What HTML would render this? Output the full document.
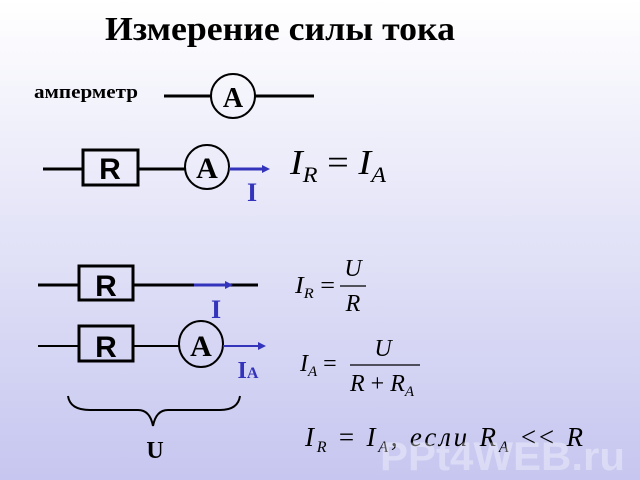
<!DOCTYPE html>
<html><head><meta charset="utf-8"><style>
html,body{margin:0;padding:0}
body{width:640px;height:480px;overflow:hidden}
svg{display:block}
</style></head><body>
<svg width="640" height="480" viewBox="0 0 640 480" xmlns="http://www.w3.org/2000/svg">
<defs>
<linearGradient id="bg" x1="0" y1="0" x2="0" y2="1">
<stop offset="0" stop-color="#ffffff"/>
<stop offset="1" stop-color="#c6c6f0"/>
</linearGradient>
</defs>
<rect width="640" height="480" fill="url(#bg)"/>
<g font-family="Liberation Serif, serif" fill="#000">
<text x="105" y="40" font-size="34" font-weight="bold" textLength="350" lengthAdjust="spacingAndGlyphs">Измерение силы тока</text>
<text x="34" y="98" font-size="19" font-weight="bold" textLength="104" lengthAdjust="spacingAndGlyphs">амперметр</text>
</g>
<g stroke="#000" stroke-width="3" fill="none">
<line x1="164" y1="96" x2="211" y2="96"/><line x1="255" y1="96" x2="314" y2="96"/>
<circle cx="233" cy="96" r="22" stroke-width="2"/>
<line x1="43" y1="169" x2="83" y2="169"/>
<rect x="83" y="150" width="55" height="35"/>
<line x1="138" y1="169" x2="185" y2="169"/>
<circle cx="207" cy="167" r="22" stroke-width="2"/>
<line x1="38" y1="285" x2="79" y2="285"/>
<rect x="79" y="266" width="54" height="34"/>
<line x1="133" y1="285" x2="258" y2="285"/>
<line x1="38" y1="346" x2="79" y2="346" stroke-width="2"/>
<rect x="79" y="326" width="54" height="35"/>
<line x1="133" y1="346" x2="179" y2="346" stroke-width="2"/>
<ellipse cx="201" cy="344" rx="22" ry="23" stroke-width="2"/>
<path d="M68 396 Q70 410 90 410 L138 410 Q150 410 153 426 Q156 410 168 410 L220 410 Q238 410 240 396" stroke-width="2"/>
</g>
<g stroke="#3333bb" stroke-width="3" fill="#3333bb">
<line x1="229" y1="169" x2="264" y2="169"/><polygon points="262,165 270,169 262,173" stroke="none"/>
<line x1="194" y1="285" x2="226" y2="285"/><polygon points="225,281 233,285 225,289" stroke="none"/>
<line x1="223" y1="346" x2="259" y2="346" stroke-width="2"/><polygon points="258,342 266,346 258,350" stroke="none"/>
</g>
<g font-family="Liberation Sans, sans-serif" font-weight="bold" font-size="30" text-anchor="middle">
<text x="110" y="179">R</text>
<text x="106" y="296">R</text>
<text x="106" y="357">R</text>
</g>
<g font-family="Liberation Serif, serif" font-weight="bold" text-anchor="middle">
<text x="233" y="107" font-size="28">A</text>
<text x="207" y="178" font-size="30">A</text>
<text x="201" y="356" font-size="30">A</text>
<text x="252" y="201" font-size="26" fill="#3333bb">I</text>
<text x="216" y="318" font-size="26" fill="#3333bb">I</text>
<text x="248" y="378" font-size="24" fill="#3333bb">I<tspan font-size="16">A</tspan></text>
<text x="155" y="458" font-size="24">U</text>
</g>
<g font-family="Liberation Serif, serif" font-style="italic" fill="#000">
<text x="290" y="174" font-size="35" textLength="96" lengthAdjust="spacingAndGlyphs">I<tspan font-size="22" dy="8">R</tspan><tspan dy="-8" font-style="normal"> = </tspan>I<tspan font-size="22" dy="8">A</tspan></text>
<text x="295" y="293" font-size="24" textLength="40" lengthAdjust="spacingAndGlyphs">I<tspan font-size="15" dy="5">R</tspan><tspan dy="-5" font-style="normal"> =</tspan></text>
<text x="353" y="276" font-size="24" text-anchor="middle">U</text>
<text x="353" y="311" font-size="24" text-anchor="middle">R</text>
<text x="300" y="371" font-size="24">I<tspan font-size="15" dy="5">A</tspan><tspan dy="-5" font-style="normal"> =</tspan></text>
<text x="383" y="356" font-size="24" text-anchor="middle">U</text>
<text x="350" y="391" font-size="24">R<tspan font-style="normal"> + </tspan>R<tspan font-size="15" dy="5">A</tspan></text>
<text x="305" y="446" font-size="27" textLength="278" lengthAdjust="spacing">I<tspan font-size="16" dy="6">R</tspan><tspan dy="-6" font-style="normal"> = </tspan>I<tspan font-size="16" dy="6">A</tspan><tspan dy="-6" font-style="normal">,  </tspan>если R<tspan font-size="16" dy="6">A</tspan><tspan dy="-6" font-style="normal"> &lt;&lt; </tspan>R</text>
</g>
<line x1="340" y1="286" x2="366" y2="286" stroke="#000" stroke-width="1.2"/>
<line x1="350" y1="365" x2="420" y2="365" stroke="#000" stroke-width="1.2"/>
<text x="380" y="470" font-family="Liberation Sans, sans-serif" font-weight="bold" font-size="40" fill="#ffffff" fill-opacity="0.35" textLength="245" lengthAdjust="spacingAndGlyphs">PPt4WEB.ru</text>
</svg>
</body></html>
